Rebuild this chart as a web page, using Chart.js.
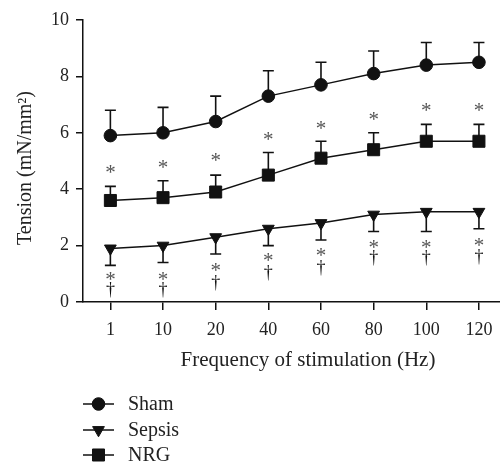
<!DOCTYPE html>
<html>
<head>
<meta charset="utf-8">
<script src="https://cdn.jsdelivr.net/npm/chart.js@4.4.1/dist/chart.umd.min.js"></script>
<style>
  html, body { margin: 0; padding: 0; background: #fff; }
</style>
</head>
<body>
<canvas id="tensionChart" width="500" height="464"></canvas>
<script>
const freqLabels = ['1', '10', '20', '40', '60', '80', '100', '120'];

const shamMean = [5.9, 6.0, 6.4, 7.3, 7.7, 8.1, 8.4, 8.5];
const shamErr = [0.9, 0.9, 0.9, 0.9, 0.8, 0.8, 0.8, 0.7];

const sepsisMean = [1.9, 2.0, 2.3, 2.6, 2.8, 3.1, 3.2, 3.2];
const sepsisErr = [0.6, 0.6, 0.6, 0.6, 0.6, 0.6, 0.7, 0.6];

const nrgMean = [3.6, 3.7, 3.9, 4.5, 5.1, 5.4, 5.7, 5.7];
const nrgErr = [0.5, 0.6, 0.6, 0.8, 0.6, 0.6, 0.6, 0.6];

// significance marks (value on the tension axis where each mark sits)
const nrgStarAt = [4.7, 4.9, 5.15, 5.9, 6.28, 6.6, 6.9, 6.9];
const sepsisStarAt = [0.92, 0.92, 1.25, 1.6, 1.78, 2.04, 2.07, 2.14];
const sepsisDaggerAt = [0.43, 0.43, 0.68, 1.02, 1.2, 1.56, 1.56, 1.6];

const yTicks = [0, 2, 4, 6, 8, 10];

const xTitle = 'Frequency of stimulation (Hz)';
const yTitle = 'Tension (mN/mm\u00B2)';

const FONT = '"Liberation Serif", "DejaVu Serif", serif';

function toPoints(arr) {
    return arr.map((v, i) => ({ x: i, y: v }));
}

const seriesStyle = [
    { label: 'Sham', data: shamMean, err: shamErr, dir: 1, pointStyle: 'circle', radius: 6.3, rotation: 0 },
    { label: 'Sepsis', data: sepsisMean, err: sepsisErr, dir: -1, pointStyle: 'triangle', radius: 6.8, rotation: 180 },
    { label: 'NRG', data: nrgMean, err: nrgErr, dir: 1, pointStyle: 'rect', radius: 8.5, rotation: 0 }
];

const errorBars = {
    id: 'errorBars',
    beforeDatasetsDraw(chart) {
        const ctx = chart.ctx;
        const xs = chart.scales.x, ys = chart.scales.y;
        ctx.save();
        ctx.strokeStyle = '#111';
        ctx.lineWidth = 1.6;
        seriesStyle.forEach(s => {
            s.data.forEach((v, i) => {
                const px = xs.getPixelForValue(i);
                const y0 = ys.getPixelForValue(v);
                const y1 = ys.getPixelForValue(v + s.dir * s.err[i]);
                ctx.beginPath();
                ctx.moveTo(px, y0);
                ctx.lineTo(px, y1);
                ctx.moveTo(px - 5.5, y1);
                ctx.lineTo(px + 5.5, y1);
                ctx.stroke();
            });
        });
        ctx.restore();
    }
};

function drawMark(ctx, text, x, y, color) {
    ctx.fillStyle = color;
    const m = ctx.measureText(text);
    const asc = m.actualBoundingBoxAscent, desc = m.actualBoundingBoxDescent;
    ctx.fillText(text, x, y + (asc - desc) / 2);
}

const sigMarks = {
    id: 'sigMarks',
    afterDatasetsDraw(chart) {
        const ctx = chart.ctx;
        const xs = chart.scales.x, ys = chart.scales.y;
        ctx.save();
        ctx.textAlign = 'center';
        ctx.textBaseline = 'alphabetic';
        freqLabels.forEach((_, i) => {
            const px = xs.getPixelForValue(i);
            ctx.font = '21px ' + FONT;
            drawMark(ctx, '*', px, ys.getPixelForValue(nrgStarAt[i]), '#555');
            drawMark(ctx, '*', px, ys.getPixelForValue(sepsisStarAt[i]), '#555');
            ctx.font = '18px ' + FONT;
            drawMark(ctx, '\u2020', px, ys.getPixelForValue(sepsisDaggerAt[i]), '#111');
        });
        ctx.restore();
    }
};

// axis titles sit a little off-centre in the original, so draw them here
const axisTitles = {
    id: 'axisTitles',
    afterDraw(chart) {
        const ctx = chart.ctx;
        ctx.save();
        ctx.fillStyle = '#222';
        ctx.textAlign = 'center';
        ctx.textBaseline = 'middle';
        ctx.font = '21px ' + FONT;
        ctx.fillText(xTitle, 308, 360);
        ctx.font = '20px ' + FONT;
        ctx.translate(26, 168);
        ctx.rotate(-Math.PI / 2);
        ctx.fillText(yTitle, 0, 0);
        ctx.restore();
    }
};

const bottomLegend = {
    id: 'bottomLegend',
    afterDraw(chart) {
        const ctx = chart.ctx;
        const rows = [404, 430, 455];
        ctx.save();
        seriesStyle.forEach((s, k) => {
            const y = rows[k];
            ctx.strokeStyle = '#111';
            ctx.lineWidth = 1.5;
            ctx.beginPath();
            ctx.moveTo(83, y);
            ctx.lineTo(114, y);
            ctx.stroke();
            ctx.fillStyle = '#111';
            ctx.lineWidth = 1;
            Chart.helpers.drawPoint(ctx, {
                pointStyle: s.pointStyle, radius: s.radius, rotation: s.rotation, borderWidth: 1
            }, 98.5, y);
            ctx.font = '20px ' + FONT;
            ctx.textAlign = 'left';
            ctx.textBaseline = 'middle';
            ctx.fillStyle = '#222';
            ctx.fillText(s.label, 128, y + 1);
        });
        ctx.restore();
    }
};

new Chart(document.getElementById('tensionChart').getContext('2d'), {
    type: 'line',
    data: {
        datasets: seriesStyle.map(s => ({
            label: s.label,
            data: toPoints(s.data),
            borderColor: '#111',
            borderWidth: 1.5,
            backgroundColor: '#111',
            pointBackgroundColor: '#111',
            pointBorderColor: '#111',
            pointBorderWidth: 1,
            pointStyle: s.pointStyle,
            pointRadius: s.radius,
            pointRotation: s.rotation,
            tension: 0,
            fill: false,
            clip: false
        }))
    },
    options: {
        responsive: false,
        animation: false,
        events: [],
        layout: { autoPadding: false, padding: { top: 20, right: 0, left: 0, bottom: 84 } },
        plugins: {
            legend: { display: false },
            tooltip: { enabled: false }
        },
        scales: {
            x: {
                type: 'linear',
                min: -0.52,
                max: 7.4,
                afterBuildTicks(scale) {
                    scale.ticks = freqLabels.map((_, i) => ({ value: i }));
                },
                afterFit(scale) {
                    scale.height = 78;
                    scale.paddingLeft = 0;
                    scale.paddingRight = 0;
                },
                ticks: {
                    callback: (v) => freqLabels[v],
                    color: '#222',
                    font: { family: FONT, size: 18 },
                    padding: 9,
                    maxRotation: 0,
                    autoSkip: false
                },
                grid: {
                    drawOnChartArea: false,
                    drawTicks: true,
                    tickLength: 8,
                    color: '#111',
                    lineWidth: 1.5
                },
                border: { display: true, color: '#111', width: 1.5 },
                title: { display: false }
            },
            y: {
                min: 0,
                max: 10,
                afterBuildTicks(scale) {
                    scale.ticks = yTicks.map(v => ({ value: v }));
                },
                afterFit(scale) { scale.width = 83; },
                ticks: {
                    color: '#222',
                    font: { family: FONT, size: 18 },
                    padding: 7
                },
                grid: {
                    drawOnChartArea: false,
                    drawTicks: true,
                    tickLength: 7,
                    color: '#111',
                    lineWidth: 1.5
                },
                border: { display: true, color: '#111', width: 1.5 },
                title: { display: false }
            }
        }
    },
    plugins: [errorBars, sigMarks, axisTitles, bottomLegend]
});
</script>
</body>
</html>
